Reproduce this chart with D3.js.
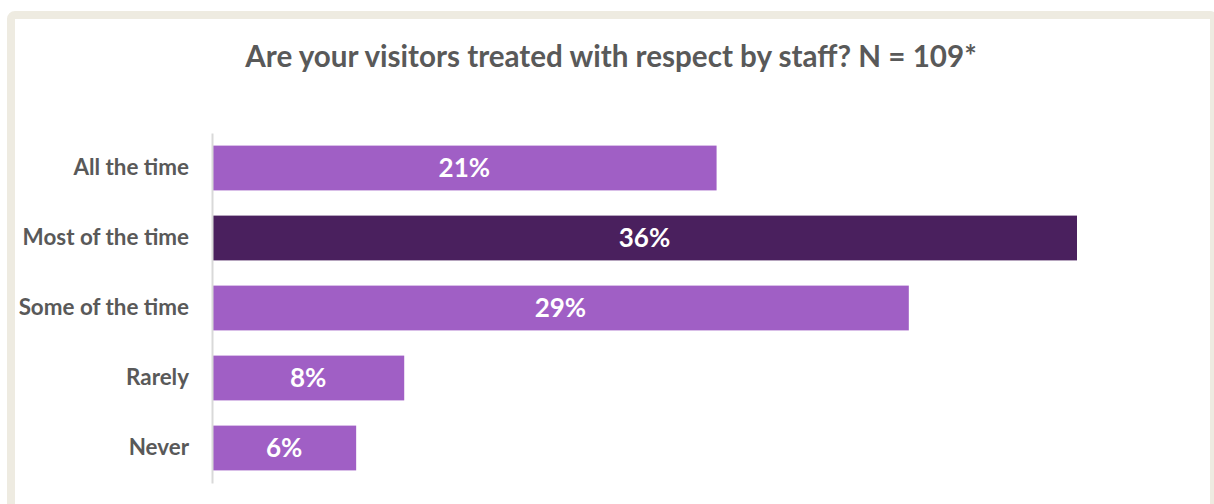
<!DOCTYPE html>
<html>
<head>
<meta charset="utf-8">
<script src="https://cdn.jsdelivr.net/npm/d3@7"></script>
<style>
  html, body { margin: 0; padding: 0; background: #ffffff; }
  svg { display: block; }
</style>
</head>
<body>
<div id="chart"></div>
<script>
// Survey responses: share of respondents per answer
const categories = ["All the time", "Most of the time", "Some of the time", "Rarely", "Never"];
const values = [21, 36, 29, 8, 6];
const valueLabels = ["21%", "36%", "29%", "8%", "6%"];
const highlighted = ["Most of the time"];
const title = "Are your visitors treated with respect by staff? N = 109*";

const W = 1214, H = 504;
const svg = d3.select("#chart").append("svg")
  .attr("width", W).attr("height", H);

// Card frame (runs off the bottom edge)
svg.append("rect")
  .attr("x", 11).attr("y", 15)
  .attr("width", 1203).attr("height", 520)
  .attr("rx", 4)
  .attr("fill", "#ffffff")
  .attr("stroke", "#eeebe1")
  .attr("stroke-width", 8);

const font = "Lato, 'Open Sans', sans-serif";

svg.append("text")
  .attr("x", 611).attr("y", 67)
  .attr("text-anchor", "middle")
  .attr("font-family", font)
  .attr("font-weight", 700)
  .attr("font-size", 29.6)
  .attr("fill", "#595959")
  .text(title);

const x = d3.scaleLinear().domain([0, 36]).range([212, 1077]);
const y = d3.scaleBand().domain(categories).range([133, 483]).paddingInner(0.36).paddingOuter(0.18);

// Bars
svg.append("g").selectAll("rect")
  .data(categories)
  .join("rect")
  .attr("x", x(0))
  .attr("y", d => y(d))
  .attr("width", (d, i) => x(values[i]) - x(0))
  .attr("height", y.bandwidth())
  .attr("fill", d => highlighted.includes(d) ? "#4a205e" : "#a05fc5");

// Category axis
const axis = svg.append("g")
  .attr("transform", `translate(${x(0)},0)`)
  .call(d3.axisLeft(y).tickSize(0).tickPadding(23));
axis.select(".domain").attr("stroke", "#d9d9d9").attr("stroke-width", 2);
axis.selectAll("text")
  .attr("font-family", font)
  .attr("font-weight", 700)
  .attr("font-size", 22.4)
  .attr("fill", "#595959");

// Value labels
svg.append("g").selectAll("text")
  .data(categories)
  .join("text")
  .attr("x", (d, i) => (x(0) + x(values[i])) / 2)
  .attr("y", d => y(d) + y.bandwidth() / 2)
  .attr("dy", "0.36em")
  .attr("text-anchor", "middle")
  .attr("font-family", font)
  .attr("font-weight", 700)
  .attr("font-size", 26)
  .attr("fill", "#ffffff")
  .text((d, i) => valueLabels[i]);
</script>
</body>
</html>
